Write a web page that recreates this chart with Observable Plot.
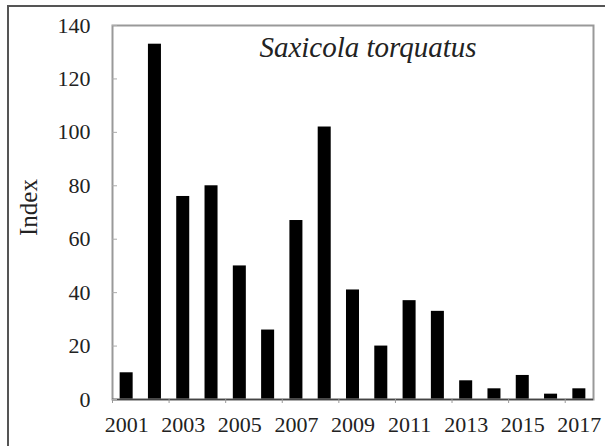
<!DOCTYPE html>
<html>
<head>
<meta charset="utf-8">
<script src="https://cdn.jsdelivr.net/npm/d3@7"></script>
<script src="https://cdn.jsdelivr.net/npm/@observablehq/plot@0.6"></script>
<style>
  html, body { margin: 0; padding: 0; background: #fff; }
  #wrap { position: relative; width: 605px; height: 446px; overflow: hidden; }
  #outer { position: absolute; left: 7px; top: 5px; width: 640px; height: 480px;
           border-top: 2px solid #555; border-left: 2px solid #555; pointer-events: none; }
  #wrap svg text { font-family: 'Liberation Serif', 'Times New Roman', serif !important; }
  #wrap svg text.ttl { font-style: italic !important; }
</style>
</head>
<body>
<div id="wrap"><div id="outer"></div></div>
<script>
const years = [2001, 2002, 2003, 2004, 2005, 2006, 2007, 2008, 2009, 2010, 2011, 2012, 2013, 2014, 2015, 2016, 2017];
const values = [10, 133, 76, 80, 50, 26, 67, 102, 41, 20, 37, 33, 7, 4, 9, 2, 4];
const xTickLabels = [2001, 2003, 2005, 2007, 2009, 2011, 2013, 2015, 2017];
const xTickMarks = [2000.5, 2002.5, 2004.5, 2006.5, 2008.5, 2010.5, 2012.5, 2014.5, 2016.5];
const yTicks = [0, 20, 40, 60, 80, 100, 120, 140];
const title = "Saxicola torquatus";
const yLabel = "Index";

const serif = "Liberation Serif";
const data = years.map((year, i) => ({year, value: values[i]}));
const half = 0.23;

const chart = Plot.plot({
  width: 605,
  height: 446,
  marginLeft: 112,
  marginRight: 12,
  marginTop: 25,
  marginBottom: 47,
  style: {fontFamily: serif, fontSize: "22px", color: "#222", background: "#fff"},
  x: {domain: [2000.5, 2017.5], axis: null},
  y: {domain: [0, 140], axis: null},
  marks: [
    Plot.rectY(data, {x1: d => d.year - half, x2: d => d.year + half, y: "value", fill: "#000"}),
    Plot.frame({stroke: "#999", strokeWidth: 2}),
    Plot.ruleY([0], {stroke: "#444", strokeWidth: 1.5}),
    Plot.axisX({ticks: xTickLabels, tickSize: 0, tickPadding: 17, tickFormat: d => String(d), fill: "#222", label: null}),
    Plot.axisX({ticks: xTickMarks, tickSize: 4, text: null, stroke: "#999", label: null}),
    Plot.axisY({ticks: yTicks, tickSize: 0, tickPadding: 22, fill: "#222", label: null}),
    Plot.axisY({ticks: yTicks, tickSize: -5, text: null, stroke: "#aaa", label: null}),
    Plot.text([title], {frameAnchor: "top", dx: 15, dy: 22, lineAnchor: "middle", textAnchor: "middle", fontSize: 29, fill: "#222"}),
    Plot.text([yLabel], {frameAnchor: "left", dx: -84, dy: -5, rotate: -90, textAnchor: "middle", lineAnchor: "middle", fontSize: 25, fill: "#222"})
  ]
});
d3.select(chart).selectAll("text").each(function() {
  this.style.fontFamily = "'Liberation Serif', serif";
  if (this.textContent === title) {
    this.classList.add("ttl");
    this.style.fontStyle = "italic";
  }
});
document.getElementById("wrap").prepend(chart);
</script>
</body>
</html>
